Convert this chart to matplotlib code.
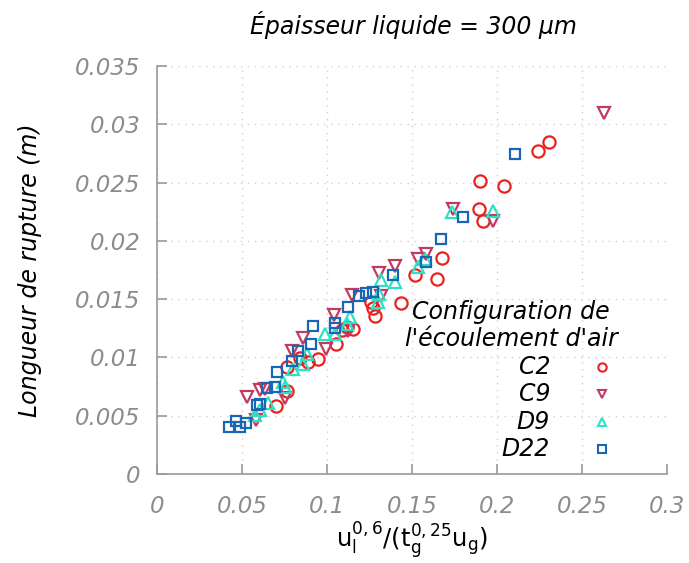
import matplotlib
matplotlib.use("Agg")
import matplotlib.pyplot as plt

plt.rcParams['font.family'] = ['DejaVu Sans']

# ---- data ----
c2_x = [0.2306, 0.2241, 0.2041, 0.1900, 0.1894, 0.1918, 0.1676, 0.1647, 0.1518, 0.1435,
        0.1259, 0.1271, 0.1282, 0.1153, 0.1118, 0.1088, 0.1053, 0.0947, 0.0888, 0.0841,
        0.0765, 0.0765, 0.0700]
c2_y = [0.02845, 0.02767, 0.02474, 0.02517, 0.02276, 0.02172, 0.01853, 0.01672, 0.01707, 0.01466,
        0.01474, 0.01422, 0.01353, 0.01241, 0.01259, 0.01233, 0.01112, 0.00983, 0.00957, 0.00991,
        0.00914, 0.00716, 0.00586]

c9_x = [0.2629, 0.1976, 0.1741, 0.1582, 0.1535, 0.1400, 0.1306, 0.1318, 0.1147, 0.1041,
        0.1124, 0.0994, 0.0859, 0.0794, 0.0753, 0.0606, 0.0529, 0.0582, 0.0635]
c9_y = [0.03095, 0.02172, 0.02276, 0.01888, 0.01845, 0.01784, 0.01724, 0.01526, 0.01534, 0.01362,
        0.01224, 0.01069, 0.01164, 0.01052, 0.00655, 0.00724, 0.00664, 0.00466, 0.00733]

d9_x = [0.1976, 0.1735, 0.1576, 0.1535, 0.1318, 0.1400, 0.1306, 0.1300, 0.1135, 0.1118,
        0.1047, 0.0988, 0.0882, 0.0859, 0.0800, 0.0741, 0.0753, 0.0653, 0.0606, 0.0576]
d9_y = [0.02259, 0.02250, 0.01845, 0.01776, 0.01664, 0.01647, 0.01543, 0.01474, 0.01345, 0.01284,
        0.01198, 0.01198, 0.01026, 0.00940, 0.00897, 0.00793, 0.00750, 0.00612, 0.00552, 0.00509]

d22_x = [0.2106, 0.1800, 0.1671, 0.1582, 0.1388, 0.1271, 0.1229, 0.1188, 0.1124, 0.1047,
         0.1047, 0.0918, 0.0906, 0.0829, 0.0794, 0.0706, 0.0694, 0.0647, 0.0588, 0.0606,
         0.0524, 0.0488, 0.0465, 0.0424]
d22_y = [0.02741, 0.02207, 0.02017, 0.01819, 0.01707, 0.01560, 0.01552, 0.01526, 0.01431, 0.01293,
         0.01250, 0.01267, 0.01112, 0.01052, 0.00966, 0.00879, 0.00750, 0.00741, 0.00595, 0.00603,
         0.00440, 0.00405, 0.00457, 0.00405]

series_names = ['C2', 'C9', 'D9', 'D22']
x_ticks = [0, 0.05, 0.1, 0.15, 0.2, 0.25, 0.3]
x_tick_labels = ['0', '0.05', '0.1', '0.15', '0.2', '0.25', '0.3']
y_ticks = [0, 0.005, 0.01, 0.015, 0.02, 0.025, 0.03, 0.035]
y_tick_labels = ['0', '0.005', '0.01', '0.015', '0.02', '0.025', '0.03', '0.035']

colors = ['#e8221e', '#c23a60', '#2fe0c4', '#1b66b4']
markers = ['o', 'v', '^', 's']
msizes = [8.8, 8.5, 8.5, 7.4]

W, H = 689, 563
fig = plt.figure(figsize=(W/100, H/100), dpi=100)
ax = fig.add_axes([157/W, 89/H, 510/W, 408/H])

data = [(c2_x, c2_y), (c9_x, c9_y), (d9_x, d9_y), (d22_x, d22_y)]
for (xs, ys), c, m, ms in zip(data, colors, markers, msizes):
    ax.plot(xs, ys, linestyle='none', marker=m, markersize=ms, markerfacecolor='none',
            markeredgecolor=c, markeredgewidth=1.6, clip_on=False)

ax.set_xlim(0, 0.3)
ax.set_ylim(0, 0.035)
ax.set_xticks(x_ticks)
ax.set_xticklabels(x_tick_labels)
ax.set_yticks(y_ticks)
ax.set_yticklabels(y_tick_labels)

gray = '#8c8c8c'
for s in ['top', 'right']:
    ax.spines[s].set_visible(False)
for s in ['left', 'bottom']:
    ax.spines[s].set_color('#9a9a9a')
    ax.spines[s].set_linewidth(1.2)
ax.tick_params(direction='in', length=7, width=1.2, color='#9a9a9a',
               labelcolor=gray, labelsize=16.5)
ax.tick_params(axis='y', pad=12)
ax.tick_params(axis='x', pad=15)
for lab in ax.get_xticklabels() + ax.get_yticklabels():
    lab.set_fontstyle('italic')

ax.grid(True, linestyle=(0, (1, 4)), color='#d0d0d0', linewidth=1)
ax.set_axisbelow(True)

fig.text(413/W, 1 - 25/H, 'Épaisseur liquide = 300 µm', fontsize=17, style='italic',
         ha='center', va='center')
ax.set_ylabel('Longueur de rupture (m)', fontsize=17, style='italic', va='center')
ax.yaxis.set_label_coords((30-157)/510, 0.5)
ax.set_xlabel(r'$\mathregular{u_l^{0,6}/(t_g^{0,25}u_g)}$', fontsize=17.5, va='center')
ax.xaxis.set_label_coords(0.5, (474-541)/408)

# legend (gnuplot style: right-aligned labels, marker on the right)
tr = ax.transAxes
ax.text((511-157)/510, (474-312)/408, 'Configuration de', transform=tr,
        ha='center', va='center', fontsize=17, style='italic')
ax.text((511-157)/510, (474-339)/408, "l'écoulement d'air", transform=tr,
        ha='center', va='center', fontsize=17, style='italic')
leg_y = [367, 394, 422, 449]
for name, c, m, py in zip(series_names, colors, markers, leg_y):
    yy = (474-py)/408
    ax.text((550-157)/510, yy, name, transform=tr, ha='right', va='center',
            fontsize=17, style='italic')
    ax.plot([(602-157)/510], [yy], transform=tr, linestyle='none', marker=m,
            markersize=6, markerfacecolor='none', markeredgecolor=c,
            markeredgewidth=1.5, clip_on=False)

fig.savefig('out.png', dpi=100)
